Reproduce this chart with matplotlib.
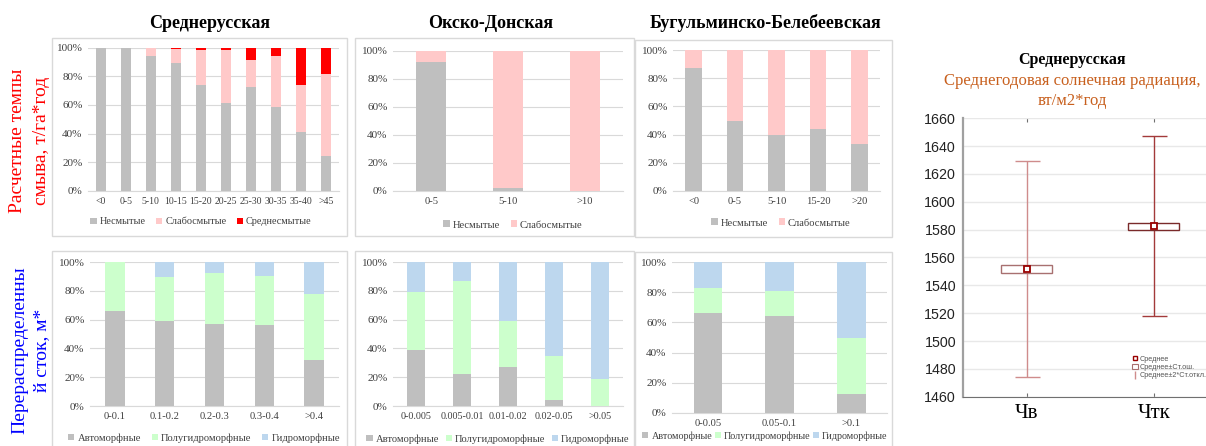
import matplotlib
matplotlib.use("Agg")
import matplotlib.pyplot as plt
from matplotlib.patches import Rectangle, Patch
from matplotlib.lines import Line2D
from matplotlib.ticker import PercentFormatter
import numpy as np

W, H = 1206, 446

# ---------------- data ----------------
titles = ["Среднерусская", "Окско-Донская", "Бугульминско-Белебеевская"]

cat1 = ["<0", "0-5", "5-10", "10-15", "15-20", "20-25", "25-30", "30-35", "35-40", ">45"]
p1_nesm = [100, 100, 94, 89.5, 74, 61, 72.5, 58.5, 41, 24.5]
p1_slab = [0, 0, 6, 9.5, 24, 37.5, 18.5, 35.5, 33, 57]
p1_sred = [0, 0, 0, 1, 2, 1.5, 9, 6, 26, 18.5]

cat2 = ["0-5", "5-10", ">10"]
p2_nesm = [92.5, 2.5, 0]
p2_slab = [7.5, 97.5, 100]

cat3 = ["<0", "0-5", "5-10", "15-20", ">20"]
p3_nesm = [87, 50, 40, 44, 33.5]
p3_slab = [13, 50, 60, 56, 66.5]

cat4 = ["0-0.1", "0.1-0.2", "0.2-0.3", "0.3-0.4", ">0.4"]
p4_avto = [66, 59, 57, 56.5, 32]
p4_polu = [34, 30.5, 35.5, 33.5, 46]
p4_gidr = [0, 10.5, 7.5, 10, 22]

cat5 = ["0-0.005", "0.005-0.01", "0.01-0.02", "0.02-0.05", ">0.05"]
p5_avto = [39, 22.5, 27, 4.5, 0]
p5_polu = [40.5, 64, 32, 30.5, 19]
p5_gidr = [20.5, 13.5, 41, 65, 81]

cat6 = ["0-0.05", "0.05-0.1", ">0.1"]
p6_avto = [66, 64, 12.5]
p6_polu = [17, 17, 37.5]
p6_gidr = [17, 19, 50]

erosion_names = ["Несмытые", "Слабосмытые", "Среднесмытые"]
moist_names = ["Автоморфные", "Полугидроморфные", "Гидроморфные"]

rad_cats = ["Чв", "Чтк"]
rad_mean = [1551.5, 1582.5]
rad_se_lo = [1549, 1580]
rad_se_hi = [1554.5, 1585]
rad_sd2_lo = [1474, 1518]
rad_sd2_hi = [1629, 1647]

# ---------------- styles ----------------
C_GREY = "#BFBFBF"
C_PINK = "#FFC9C9"
C_RED = "#FF0000"
C_GREEN = "#CCFFCC"
C_BLUE = "#BDD7EE"
SERIF = ["Liberation Serif", "DejaVu Serif"]
SANS = ["Liberation Sans", "DejaVu Sans"]

fig = plt.figure(figsize=(W / 100, H / 100), dpi=100)
fig.patch.set_facecolor("white")


def px_axes(x0, y0, x1, y1):
    return fig.add_axes([x0 / W, 1 - y1 / H, (x1 - x0) / W, (y1 - y0) / H])


def frame(x0, y0, x1, y1):
    fig.patches.append(Rectangle((x0 / W, 1 - y1 / H), (x1 - x0) / W, (y1 - y0) / H,
                                 transform=fig.transFigure, fill=False,
                                 edgecolor="#D9D9D9", lw=1.0, zorder=0))


def stacked(ax, cats, series, colors, names, width, legend_xy, legend_fs=7.6, colsp=1.0,
            xfs=7.6):
    x = np.arange(len(cats))
    bottom = np.zeros(len(cats))
    handles = []
    for vals, col, nm in zip(series, colors, names):
        ax.bar(x, vals, width, bottom=bottom, color=col, zorder=3)
        bottom = bottom + np.array(vals)
        handles.append(Patch(facecolor=col, edgecolor="none", label=nm))
    ax.set_xlim(-0.5, len(cats) - 0.5)
    ax.set_ylim(0, 100)
    ax.set_yticks([0, 20, 40, 60, 80, 100])
    ax.yaxis.set_major_formatter(PercentFormatter(decimals=0))
    ax.set_xticks(x)
    ax.set_xticklabels(cats)
    ax.grid(axis="y", color="#D9D9D9", lw=0.8, zorder=0)
    for s in ["top", "right", "left"]:
        ax.spines[s].set_visible(False)
    ax.spines["bottom"].set_color("#D9D9D9")
    ax.tick_params(length=0, colors="#404040", pad=4)
    ax.tick_params(axis="y", labelsize=8.0)
    ax.tick_params(axis="x", labelsize=xfs)
    for lab in ax.get_xticklabels() + ax.get_yticklabels():
        lab.set_family(SERIF)
    leg = fig.legend(handles=handles, loc="center", ncol=len(names),
                     bbox_to_anchor=(legend_xy[0] / W, 1 - legend_xy[1] / H),
                     frameon=False, handlelength=0.6, handleheight=0.6,
                     handletextpad=0.3, columnspacing=colsp,
                     prop={"family": SERIF, "size": legend_fs})
    for t in leg.get_texts():
        t.set_color("#404040")
    return ax


# frames
frame(52, 38, 347, 236)
frame(355, 38, 634, 236)
frame(635, 40, 892, 237)
frame(52, 251, 347, 452)
frame(355, 251, 634, 452)
frame(635, 252, 892, 452)

# top row
ax1 = px_axes(88, 47.5, 339, 191)
stacked(ax1, cat1, [p1_nesm, p1_slab, p1_sred], [C_GREY, C_PINK, C_RED], erosion_names, 0.4, (201, 222),
        legend_fs=7.4, xfs=7.0)
ax2 = px_axes(393, 51, 623, 191)
stacked(ax2, cat2, [p2_nesm, p2_slab], [C_GREY, C_PINK], erosion_names[:2], 0.39, (513, 225))
ax3 = px_axes(673, 50, 880, 191)
stacked(ax3, cat3, [p3_nesm, p3_slab], [C_GREY, C_PINK], erosion_names[:2], 0.4, (781, 223))

# bottom row
ax4 = px_axes(90, 262, 339, 406)
stacked(ax4, cat4, [p4_avto, p4_polu, p4_gidr], [C_GREY, C_GREEN, C_BLUE], moist_names, 0.39, (204, 438))
ax5 = px_axes(393, 262, 623, 406)
stacked(ax5, cat5, [p5_avto, p5_polu, p5_gidr], [C_GREY, C_GREEN, C_BLUE], moist_names, 0.4, (498, 439),
        colsp=0.6, xfs=7.3)
ax6 = px_axes(672, 262, 887, 413)
stacked(ax6, cat6, [p6_avto, p6_polu, p6_gidr], [C_GREY, C_GREEN, C_BLUE], moist_names, 0.4, (765, 436),
        legend_fs=7.3, colsp=0.25)

# titles
for t, xc in zip(titles, [210, 491, 765]):
    fig.text(xc / W, 1 - 23 / H, t, ha="center", va="center", fontsize=13,
             fontweight="bold", family=SERIF, color="black")

# row labels
fig.text(18 / W, 1 - 141 / H, "Расчетные темпы", rotation=90, ha="center", va="center",
         fontsize=14, family=SERIF, color="#FF0000")
fig.text(42 / W, 1 - 141 / H, "смыва, т/га*год", rotation=90, ha="center", va="center",
         fontsize=14, family=SERIF, color="#FF0000")
fig.text(20 / W, 1 - 350 / H, "Перераспределенны", rotation=90, ha="center", va="center",
         fontsize=14, family=SERIF, color="#0000FF")
fig.text(42 / W, 1 - 350 / H, "й сток, м*", rotation=90, ha="center", va="center",
         fontsize=14, family=SERIF, color="#0000FF")

# ---------------- right panel ----------------
axr = px_axes(963, 118.3, 1206, 396.7)
xr = np.arange(len(rad_cats))
mean = np.array(rad_mean)
lo2 = np.array(rad_sd2_lo)
hi2 = np.array(rad_sd2_hi)
se_lo = np.array(rad_se_lo)
se_hi = np.array(rad_se_hi)
wcols = ["#CF8C8C", "#A33A3A"]
bcols = ["#A87070", "#7A2A2A"]
for i in range(len(rad_cats)):
    axr.errorbar(xr[i], mean[i], yerr=[[mean[i] - lo2[i]], [hi2[i] - mean[i]]], fmt="none",
                 ecolor=wcols[i], elinewidth=1.0, capsize=9, capthick=1.0, zorder=3)
    axr.bar(xr[i], se_hi[i] - se_lo[i], 0.4, bottom=se_lo[i], facecolor="white",
            edgecolor=bcols[i], lw=1.0, zorder=4)
    axr.plot(xr[i], mean[i], marker="s", ms=5, mfc="white", mec="#990000", mew=1.3,
             ls="none", zorder=5)
axr.set_xlim(-0.5, 1.41)
axr.set_ylim(1460, 1660)
axr.set_yticks(np.arange(1460, 1661, 20))
axr.set_xticks(xr)
axr.set_xticklabels(rad_cats, fontsize=15, family=SERIF)
axr.grid(axis="y", color="#E8E8E8", lw=1.0, zorder=0)
axr.spines["right"].set_visible(False)
axr.spines["top"].set_visible(False)
axr.spines["left"].set_color("#A0A0A0")
axr.spines["left"].set_linewidth(1.6)
axr.spines["bottom"].set_color("#707070")
axr.tick_params(axis="y", length=0, labelsize=10.3, colors="#222222", pad=5)
axr.tick_params(axis="x", length=3, color="#707070", pad=5, top=True, direction="in")
for lab in axr.get_yticklabels():
    lab.set_family(SANS)

rh = [Line2D([], [], marker="s", ls="none", mfc="white", mec="#990000", ms=3, mew=1),
      Patch(facecolor="white", edgecolor="#A87070", lw=0.8),
      Line2D([], [], marker="|", ls="none", color="#CF8C8C", ms=6)]
leg = axr.legend(rh, ["Среднее", "Среднее±Ст.ош.", "Среднее±2*Ст.откл."],
                 loc="center left", bbox_to_anchor=(0.68, 0.105), frameon=False,
                 prop={"family": SANS, "size": 5.2}, handlelength=0.8, handleheight=0.8,
                 handletextpad=0.3, labelspacing=0.15, borderpad=0)
for t in leg.get_texts():
    t.set_color("#555555")

fig.text(1072 / W, 1 - 60 / H, "Среднерусская", ha="center", va="center", fontsize=11.5,
         fontweight="bold", family=SERIF, color="black")
fig.text(1072 / W, 1 - 81 / H, "Среднегодовая солнечная радиация,", ha="center", va="center",
         fontsize=12, family=SERIF, color="#C8601E")
fig.text(1072 / W, 1 - 101 / H, "вт/м2*год", ha="center", va="center",
         fontsize=12, family=SERIF, color="#C8601E")

fig.savefig("out.png", dpi=100, facecolor="white")
